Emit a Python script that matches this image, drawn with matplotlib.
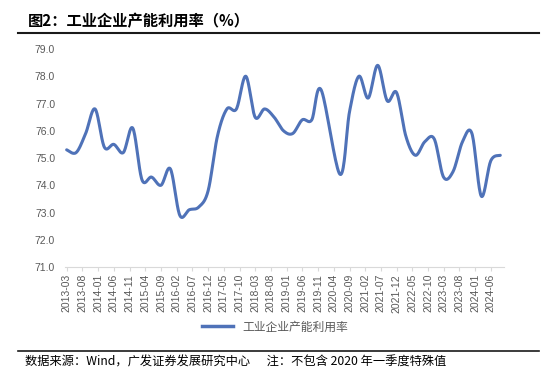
import numpy as np
import pandas as pd
import matplotlib
matplotlib.use('Agg')
import matplotlib.pyplot as plt
import matplotlib.dates as mdates
from matplotlib.lines import Line2D

plt.rcParams['font.family'] = ['Noto Sans CJK SC', 'DejaVu Sans']

# quarterly capacity utilisation, 2020-03 left out
quarters = [q for q in pd.date_range('2013-03-01', '2024-09-01', freq='3MS')
            if q != pd.Timestamp('2020-03-01')]
values = [75.3, 75.2, 75.9, 76.8,
          75.4, 75.5, 75.2, 76.1,
          74.2, 74.3, 74.0, 74.6,
          72.9, 73.1, 73.2, 73.8,
          75.8, 76.8, 76.8, 78.0,
          76.5, 76.8, 76.5, 76.0,
          75.9, 76.4, 76.4, 77.5,
          74.4, 76.7, 78.0,
          77.2, 78.4, 77.1, 77.4,
          75.8, 75.1, 75.6, 75.7,
          74.3, 74.5, 75.6, 75.9,
          73.6, 74.9, 75.1]
series_name = '工业企业产能利用率'
tick_dates = pd.date_range('2013-03-01', '2024-06-01', freq='5MS')
yticks = [71.0, 72.0, 73.0, 74.0, 75.0, 76.0, 77.0, 78.0, 79.0]


def smooth(x, y, n=20):
    # excel style smoothed line (bezier through the points)
    x = np.asarray(x, float)
    y = np.asarray(y, float)
    px = np.concatenate([[x[0]], x, [x[-1]]])
    py = np.concatenate([[y[0]], y, [y[-1]]])
    xs, ys = [], []
    t = np.linspace(0, 1, n)
    for i in range(1, len(px) - 2):
        p0 = np.array([px[i], py[i]])
        p3 = np.array([px[i + 1], py[i + 1]])
        c1 = p0 + (np.array([px[i + 1], py[i + 1]]) - np.array([px[i - 1], py[i - 1]])) / 6
        c2 = p3 - (np.array([px[i + 2], py[i + 2]]) - np.array([px[i], py[i]])) / 6
        b = ((1 - t) ** 3)[:, None] * p0 + (3 * (1 - t) ** 2 * t)[:, None] * c1 \
            + (3 * (1 - t) * t ** 2)[:, None] * c2 + (t ** 3)[:, None] * p3
        xs.extend(b[:, 0])
        ys.extend(b[:, 1])
    return xs, ys


fig = plt.figure(figsize=(5.5, 3.79), dpi=100)
ax = fig.add_axes([0.118, 0.2955, 0.798, 0.5752])

xnum = mdates.date2num(quarters)
sx, sy = smooth(xnum, values)
color = '#4F72B8'
ax.plot(sx, sy, color=color, lw=2.2, solid_capstyle='round')

ax.set_ylim(71, 79)
ax.set_yticks(yticks)
ax.set_yticklabels(['%.1f' % v for v in yticks], fontsize=7.5, color='#595959',
                   family=['Liberation Sans'])
ax.set_xlim(mdates.date2num(pd.Timestamp('2013-02-12')),
            mdates.date2num(pd.Timestamp('2024-10-05')))
ax.set_xticks(mdates.date2num(tick_dates))
ax.set_xticklabels([d.strftime('%Y-%m') for d in tick_dates], rotation=90,
                   fontsize=7.5, color='#595959', family=['Liberation Sans'])
ax.tick_params(axis='y', length=0, pad=7)
ax.tick_params(axis='x', length=3, color='#D9D9D9', pad=2)
for s in ['top', 'right', 'left']:
    ax.spines[s].set_visible(False)
ax.spines['bottom'].set_color('#D9D9D9')

fig.legend([Line2D([], [], color=color, lw=2.5)], [series_name],
           loc='center', bbox_to_anchor=(0.5, 0.137), frameon=False,
           fontsize=8.5, labelcolor='#595959', handlelength=2.6)

fig.text(0.051, 0.943, '图2：工业企业产能利用率（%）', fontsize=11,
         fontweight='bold', va='center', ha='left')
fig.add_artist(Line2D([0.033, 0.98], [0.913, 0.913], color='#1a1a1a', lw=1.5))
fig.add_artist(Line2D([0.033, 0.98], [0.074, 0.074], color='#1a1a1a', lw=1.2))
fig.text(0.046, 0.045, '数据来源：Wind，广发证券发展研究中心      注：不包含 2020 年一季度特殊值',
         fontsize=8.8, va='center', ha='left')

fig.savefig('out.png', dpi=100)
